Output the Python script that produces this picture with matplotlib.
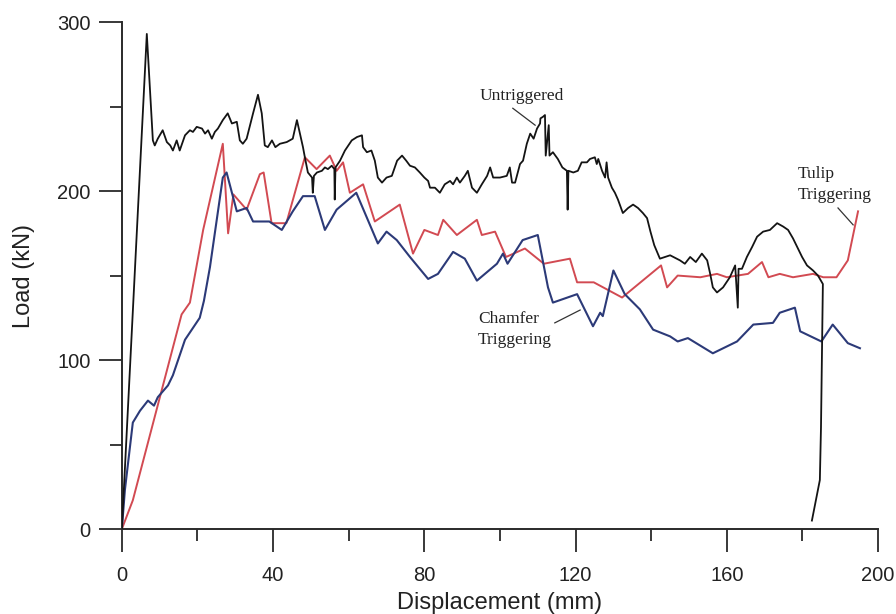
import matplotlib
matplotlib.use("Agg")
import matplotlib.pyplot as plt
from matplotlib.ticker import MultipleLocator

# ---------------- data ----------------
untrig_x = [0, 6.6, 7.4, 8.2, 8.7, 9.5, 10.8, 11.9, 12.8, 13.5,
            14.5, 15.3, 16.7, 18.0, 18.8, 19.8, 21.2, 22.0, 22.8, 23.8,
            24.6, 25.4, 26.7, 28.0, 29.1, 30.4, 31.2, 32.0, 33.0, 34.7,
            36.0, 37.0, 37.8, 38.6, 39.7, 40.6, 41.8, 43.6, 45.2, 46.3,
            47.0, 47.9, 48.4, 49.2, 50.3, 50.5, 50.8, 51.6, 52.9, 53.7,
            54.5, 55.5, 56.2, 56.3, 56.5, 57.7, 59.0, 60.8, 62.2, 63.5,
            63.8, 64.8, 66.0, 66.9, 67.7, 68.8, 70.0, 71.4, 72.8, 74.1,
            75.2, 76.2, 77.5, 78.8, 80.0, 81.0, 81.5, 82.8, 84.1, 85.4,
            86.8, 87.6, 88.6, 89.4, 90.7, 91.5, 92.6, 93.9, 95.2, 96.6,
            97.4, 98.2, 100.0, 101.8, 102.6, 103.2, 104.0, 105.3, 106.1, 107.1,
            108.0, 108.9, 109.8, 110.6, 110.7, 111.4, 111.9, 112.1, 112.9, 113.1,
            114.0, 115.3, 116.5, 117.7, 117.9, 118.1, 119.4, 120.6, 121.6, 123.0,
            123.8, 125.1, 125.6, 126.0, 127.0, 127.8, 128.2, 128.6, 129.6, 130.4,
            131.2, 132.5, 133.9, 135.2, 136.5, 137.8, 138.9, 139.8, 140.8, 142.3,
            145.0, 147.6, 148.9, 150.3, 151.8, 153.4, 154.8, 155.6, 156.3, 157.4,
            159.0, 160.8, 162.2, 162.9, 163.1, 164.0, 165.3, 166.7, 168.0, 169.6,
            171.4, 173.3, 174.9, 176.2, 177.5, 178.6, 179.9, 181.2, 182.8, 184.1,
            185.4, 184.9, 184.6, 182.5]
untrig_y = [0, 293, 262, 230, 227, 231, 236, 229, 227, 224,
            230, 224, 233, 236, 235, 238, 237, 234, 236, 231,
            235, 237, 242, 246, 240, 241, 230, 228, 231, 246,
            257, 246, 227, 226, 230, 226, 228, 229, 231, 242,
            235, 226, 220, 211, 208, 199, 209, 211, 212, 214,
            213, 215, 213, 195, 214, 218, 224, 230, 232, 233,
            226, 223, 224, 218, 208, 205, 208, 209, 218, 221,
            218, 215, 214, 211, 208, 206, 202, 202, 199, 204,
            206, 204, 208, 205, 209, 212, 202, 199, 204, 209,
            214, 208, 208, 209, 214, 205, 205, 216, 218, 228,
            234, 231, 237, 240, 243, 244, 245, 221, 239, 221,
            223, 219, 214, 212, 189, 212, 211, 212, 217, 217,
            219, 220, 216, 219, 212, 208, 217, 208, 202, 199,
            195, 187, 190, 192, 190, 187, 184, 176, 168, 160,
            162, 159, 157, 161, 158, 163, 159, 151, 143, 140,
            143, 149, 156, 131, 154, 154, 161, 167, 173, 176,
            177, 181, 179, 177, 172, 167, 161, 156, 153, 150,
            145, 60, 29, 5]

tulip_x = [0, 2.9, 15.8, 18.0, 21.5, 26.7, 28.1, 29.5, 33.0, 36.5,
           37.5, 39.6, 43.5, 48.4, 51.5, 55.0, 56.8, 58.5, 60.3, 63.8,
           66.9, 73.5, 77.0, 80.0, 83.6, 85.0, 88.6, 93.9, 95.2, 98.7,
           101.6, 106.6, 111.6, 118.5, 120.4, 124.8, 132.3, 142.6, 144.2, 147.0,
           153.0, 157.4, 160.0, 165.6, 169.3, 171.0, 174.0, 177.5, 182.8, 185.5,
           189.0, 192.0, 194.7]
tulip_y = [0, 17, 127, 134, 177, 228, 175, 198, 189, 210,
           211, 181, 181, 220, 213, 221, 212, 217, 199, 204,
           182, 192, 163, 177, 174, 183, 174, 183, 174, 176,
           161, 166, 157, 160, 146, 146, 137, 156, 143, 150,
           149, 151, 149, 151, 158, 149, 151, 149, 151, 149,
           149, 159, 188]

chamfer_x = [0, 0.8, 2.9, 4.8, 6.9, 8.5, 9.5, 12.2, 13.5, 16.7,
             20.6, 21.7, 23.3, 26.7, 27.7, 30.4, 33.0, 34.7, 39.0, 42.3,
             45.2, 47.9, 51.0, 53.7, 56.8, 62.0, 67.7, 70.0, 72.7, 76.2,
             81.0, 83.6, 87.6, 90.7, 93.9, 99.2, 100.8, 102.0, 106.0, 110.0,
             112.7, 114.0, 120.4, 124.6, 126.5, 127.2, 130.0, 133.0, 137.0, 140.5,
             145.0, 147.0, 149.7, 156.3, 162.7, 167.0, 172.2, 174.0, 178.0, 179.4,
             185.0, 188.0, 192.0, 195.2]
chamfer_y = [0, 23, 63, 70, 76, 73, 78, 85, 91, 112,
             125, 135, 155, 208, 211, 188, 190, 182, 182, 177,
             188, 197, 197, 177, 189, 199, 169, 176, 171, 161,
             148, 151, 164, 160, 147, 157, 163, 157, 171, 174,
             143, 134, 139, 120, 128, 126, 153, 139, 130, 118,
             114, 111, 113, 104, 111, 121, 122, 128, 131, 117,
             111, 121, 110, 107]

x_ticks = [0, 40, 80, 120, 160, 200]
y_ticks = [0, 100, 200, 300]

# ---------------- figure ----------------
fig = plt.figure(figsize=(8.96, 6.14), dpi=100)
ax = fig.add_axes([0.136, 0.1384, 0.844, 0.8256])

ax.plot(untrig_x, untrig_y, color="#141414", lw=1.3, zorder=3)
ax.plot(tulip_x, tulip_y, color="#d24a52", lw=1.4, zorder=2)
ax.plot(chamfer_x, chamfer_y, color="#2c3a78", lw=1.5, zorder=2)

ax.set_xlim(0, 200)
ax.set_ylim(0, 300)
ax.set_xticks(x_ticks)
ax.set_yticks(y_ticks)
ax.xaxis.set_minor_locator(MultipleLocator(20))
ax.yaxis.set_minor_locator(MultipleLocator(50))

for s in ["top", "right"]:
    ax.spines[s].set_visible(False)
for s in ["left", "bottom"]:
    ax.spines[s].set_linewidth(1.4)
    ax.spines[s].set_color("#2a2a2a")

ax.tick_params(which="major", length=16.5, width=1.3, color="#2a2a2a",
               labelsize=14.5, labelcolor="#222222")
ax.tick_params(axis="x", which="major", pad=10)
ax.tick_params(axis="y", which="major", pad=6)
ax.tick_params(which="minor", length=8.5, width=1.3, color="#2a2a2a")
for lab in ax.get_xticklabels() + ax.get_yticklabels():
    lab.set_fontfamily("Liberation Sans")

ax.set_xlabel("Displacement (mm)", fontsize=17, family="Liberation Sans",
              labelpad=5, color="#222222")
ax.set_ylabel("Load (kN)", fontsize=17, family="Liberation Sans",
              labelpad=16, color="#222222")

serif = dict(family="Liberation Serif", fontsize=12.5, color="#222222")
ax.text(105.8, 256, "Untriggered", ha="center", va="center", **serif)
ax.plot([103.4, 109.3], [249, 239], color="#333333", lw=0.9)

ax.text(178.8, 204, "Tulip\nTriggering", ha="left", va="center",
        linespacing=1.4, **serif)
ax.plot([189.4, 193.4], [190, 180], color="#333333", lw=0.9)

ax.text(94.2, 118, "Chamfer\nTriggering", ha="left", va="center",
        linespacing=1.4, **serif)
ax.plot([114.5, 121.2], [122, 129.6], color="#333333", lw=0.9)

fig.savefig("out.png", dpi=100)
